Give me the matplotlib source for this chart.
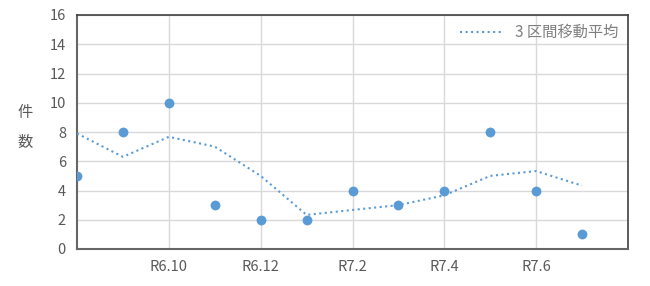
import matplotlib.pyplot as plt

plt.rcParams['font.family'] = ['Noto Sans CJK JP', 'DejaVu Sans']

# monthly counts, R6.8 .. R7.7
months = ["R6.8", "R6.9", "R6.10", "R6.11", "R6.12", "R7.1",
          "R7.2", "R7.3", "R7.4", "R7.5", "R7.6", "R7.7"]
counts = [5, 8, 10, 3, 2, 2, 4, 3, 4, 8, 4, 1]
# 3-month moving average
moving_avg = [7.9, 6.3, 7.67, 7.0, 5.0, 2.33, 2.67, 3.0, 3.67, 5.0, 5.33, 4.33]

tick_idx = [2, 4, 6, 8, 10]
tick_labels = [months[i] for i in tick_idx]

blue = "#5B9BD5"
gray = "#595959"

fig = plt.figure(figsize=(6.5, 2.86), dpi=100)
ax = fig.add_axes([77 / 650, 1 - 249 / 286, 551 / 650, 234 / 286])

x = list(range(len(months)))
ax.plot(x, moving_avg, linestyle=":", color=blue, linewidth=1.5,
        label="3 区間移動平均", zorder=3)
ax.scatter(x, counts, s=50, color=blue, zorder=4, linewidths=0)

ax.set_xlim(0, 12)
ax.set_ylim(0, 16)
ax.set_yticks(range(0, 17, 2))
ax.set_xticks(tick_idx)
ax.set_xticklabels(tick_labels)
ax.tick_params(length=0, colors=gray, labelsize=10.5, pad=8)
ax.grid(True, color="#D9D9D9", linewidth=1)
ax.set_axisbelow(True)
for side in ["left", "bottom"]:
    ax.spines[side].set_color("#666666")
    ax.spines[side].set_linewidth(1.5)
for side in ["top", "right"]:
    ax.spines[side].set_color("#404040")
    ax.spines[side].set_linewidth(1.2)

fig.text(25 / 650, 1 - 112 / 286, "件", ha="center", va="center",
         fontsize=11, color=gray)
fig.text(25 / 650, 1 - 142 / 286, "数", ha="center", va="center",
         fontsize=11, color=gray)

ax.legend(loc="upper right", frameon=False, fontsize=11, labelcolor="#7F7F7F",
          handlelength=2.8, borderaxespad=0.2)

fig.savefig("out.png", dpi=100)
